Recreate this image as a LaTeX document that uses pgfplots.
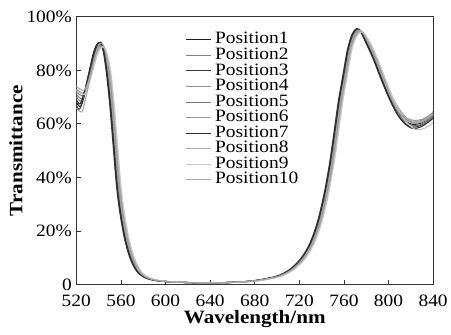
\documentclass[border=0pt]{standalone}
\usepackage{fontspec}
\setmainfont{Liberation Serif}[FakeStretch=1.12]
\usepackage{pgfplots}
\pgfplotsset{compat=1.18}
\begin{document}
\begin{tikzpicture}
\begin{axis}[
  scale only axis, width=360pt, height=270pt,
  xmin=520, xmax=840, ymin=0, ymax=100,
  xtick={520,560,...,840},
  xticklabels={520,560,600,640,680,720,760,800,840},
  ytick={0,20,...,100},
  yticklabels={0,20\%,40\%,60\%,80\%,100\%},
  tick align=inside, xtick pos=bottom, ytick pos=left,
  major tick length=5pt,
  axis line style={line width=1pt, black!80},
  tick style={line width=0.8pt, black!80},
  tick label style={font=\fontsize{17.5}{18}\selectfont},
  xticklabel style={anchor=base, yshift=-22pt},
  yticklabel style={xshift=-1pt},
  xlabel={Wavelength/nm}, ylabel={Transmittance},
  every axis x label/.style={at={(rel axis cs:0.5,0)}, yshift=-39pt, anchor=base, font=\fontsize{19}{20}\selectfont\bfseries},
  every axis y label/.style={at={(rel axis cs:0,0.5)}, xshift=-61pt, rotate=90, anchor=center, font=\fontsize{19}{20}\selectfont\bfseries},
  every axis plot/.append style={line width=1.1pt, smooth, mark=none},
  legend cell align=left,
  legend style={at={(rel axis cs:0.305,0.944)}, anchor=north west, draw=none, fill=none, inner sep=0pt,
    font=\fontsize{17.5}{18}\selectfont, row sep=0pt, column sep=4pt,
    nodes={inner sep=0pt, text height=12pt, text depth=3.7pt}},
  legend image code/.code={\draw[#1] (0pt,0pt) -- (25pt,0pt);},
]
\addplot[color=black!88] coordinates {(520,68) (524,66.5) (528,71.8) (532,78.9) (536,86) (539,89.5) (542,90.5) (545,87.3) (548,79) (551,67) (554,52) (557,37) (560,27) (564,17.5) (569,10) (575,5) (582,2.6) (590,1.6) (600,1.1) (620,0.7) (640,0.6) (660,0.8) (680,1.4) (700,3) (712,5.5) (722,9.5) (730,15) (737,23) (743,33.5) (748,45) (752,56.5) (756,68.5) (760,78) (764,87.5) (768,93.2) (772,95.3) (776,94.2) (781,90) (787,84.5) (794,77) (801,70) (808,64.5) (815,61) (822,59.8) (829,60.3) (835,61.8) (840,63.5)};
\addlegendentry{Position1}
\addplot[color=black!50] coordinates {(520,71) (525,69.5) (529,73.6) (533,79.8) (537,86) (540,89) (543,89.5) (546,86.6) (549,79) (552,67) (555,52) (558,37) (561,27) (565,17.5) (570,10) (576,5) (583,2.6) (591,1.6) (601,1.1) (621,0.7) (641,0.6) (661,0.8) (681,1.4) (701,3) (713,5.5) (723,9.5) (731,15) (738,23) (744,33.5) (749,45) (753,56.5) (757,68.5) (761,78) (765,87.5) (769,93) (773,95) (777,94) (782,90) (788,84.5) (795,77) (802,70) (809,64.7) (816,61.6) (823,60.8) (830,61.3) (836,62.8) (840,64.3)};
\addlegendentry{Position2}
\addplot[color=black!78] coordinates {(520,67) (523,65.5) (527,71.2) (531,78.6) (535,86) (538,89.5) (541,90.3) (544,87.3) (547,79) (550,67) (553,52) (556,37) (559,27) (563,17.5) (568,10) (574,5) (581,2.6) (589,1.6) (599,1.1) (619,0.7) (639,0.6) (659,0.8) (679,1.4) (699,3) (711,5.5) (721,9.5) (729,15) (736,23) (742,33.5) (747,45) (751,56.5) (755,68.5) (759,78) (763,87.5) (767,93.2) (771,95.5) (775,94.3) (780,90) (786,84.5) (793,77) (800,70) (807,64.3) (814,60.4) (821,58.8) (828,59.3) (834,60.8) (840,62.7)};
\addlegendentry{Position3}
\addplot[color=black!45] coordinates {(520,72) (525.5,70.5) (529.5,74.2) (533.5,80.1) (537.5,86) (540.5,88.8) (543.5,89.2) (546.5,86.3) (549.5,79) (552.5,67) (555.5,52) (558.5,37) (561.5,27) (565.5,17.5) (570.5,10) (576.5,5) (583.5,2.6) (591.5,1.6) (601.5,1.1) (621.5,0.7) (641.5,0.6) (661.5,0.8) (681.5,1.4) (701.5,3) (713.5,5.5) (723.5,9.5) (731.5,15) (738.5,23) (744.5,33.5) (749.5,45) (753.5,56.5) (757.5,68.5) (761.5,78) (765.5,87.5) (769.5,92.8) (773.5,94.8) (777.5,93.8) (782.5,90) (788.5,84.5) (795.5,77) (802.5,70) (809.5,64.6) (816.5,61.3) (823.5,60.3) (830.5,60.8) (836.5,62.3) (840,63.6)};
\addlegendentry{Position4}
\addplot[color=black!55] coordinates {(520,70) (524.5,68.5) (528.5,73) (532.5,79.5) (536.5,86) (539.5,89.3) (542.5,90) (545.5,87) (548.5,79) (551.5,67) (554.5,52) (557.5,37) (560.5,27) (564.5,17.5) (569.5,10) (575.5,5) (582.5,2.6) (590.5,1.6) (600.5,1.1) (620.5,0.7) (640.5,0.6) (660.5,0.8) (680.5,1.4) (700.5,3) (712.5,5.5) (722.5,9.5) (730.5,15) (737.5,23) (743.5,33.5) (748.5,45) (752.5,56.5) (756.5,68.5) (760.5,78) (764.5,87.5) (768.5,93.1) (772.5,95.2) (776.5,94.1) (781.5,90) (787.5,84.5) (794.5,77) (801.5,70) (808.5,64.2) (815.5,60.7) (822.5,59.3) (829.5,59.8) (835.5,61.3) (840,62.9)};
\addlegendentry{Position5}
\addplot[color=black!40] coordinates {(520,73) (526,71.5) (530,74.8) (534,80.4) (538,86.2) (541,88.7) (544,89) (547,86) (550,79) (553,67) (556,52) (559,37) (562,27) (566,17.5) (571,10) (577,5) (584,2.6) (592,1.6) (602,1.1) (622,0.7) (642,0.6) (662,0.8) (682,1.4) (702,3) (714,5.5) (724,9.5) (732,15) (739,23) (745,33.5) (750,45) (754,56.5) (758,68.5) (762,78) (766,87.5) (770,92.6) (774,94.6) (778,93.6) (783,90) (789,84.5) (796,77) (803,70.2) (810,65.2) (817,62) (824,61.3) (831,61.8) (837,63.3) (840,64.5)};
\addlegendentry{Position6}
\addplot[color=black!82] coordinates {(520,69) (523.5,67.5) (527.5,72.4) (531.5,79.2) (535.5,86) (538.5,89.5) (541.5,90.5) (544.5,87.4) (547.5,79) (550.5,67) (553.5,52) (556.5,37) (559.5,27) (563.5,17.5) (568.5,10) (574.5,5) (581.5,2.6) (589.5,1.6) (599.5,1.1) (619.5,0.7) (639.5,0.6) (659.5,0.8) (679.5,1.4) (699.5,3) (711.5,5.5) (721.5,9.5) (729.5,15) (736.5,23) (742.5,33.5) (747.5,45) (751.5,56.5) (755.5,68.5) (759.5,78) (763.5,87.5) (767.5,93.3) (771.5,95.6) (775.5,94.5) (780.5,90) (786.5,84.5) (793.5,77) (800.5,69.8) (807.5,63.8) (814.5,60.1) (821.5,58.3) (828.5,58.8) (834.5,60.3) (840,62.1)};
\addlegendentry{Position7}
\addplot[color=black!32] coordinates {(520,74) (526.5,72.5) (530.5,75.4) (534.5,80.7) (538.5,86.2) (541.5,88.5) (544.5,88.8) (547.5,85.8) (550.5,79) (553.5,67) (556.5,52) (559.5,37) (562.5,27) (566.5,17.5) (571.5,10) (577.5,5) (584.5,2.6) (592.5,1.6) (602.5,1.1) (622.5,0.7) (642.5,0.6) (662.5,0.8) (682.5,1.4) (702.5,3) (714.5,5.5) (724.5,9.5) (732.5,15) (739.5,23) (745.5,33.5) (750.5,45) (754.5,56.5) (758.5,68.5) (762.5,78) (766.5,87.5) (770.5,92.5) (774.5,94.5) (778.5,93.5) (783.5,90) (789.5,84.5) (796.5,77) (803.5,70.1) (810.5,65) (817.5,61.6) (824.5,60.8) (831.5,61.3) (837.5,62.8) (840,63.6)};
\addlegendentry{Position8}
\addplot[color=black!22] coordinates {(520,72.5) (527,71) (531,74.5) (535,80.2) (539,86.1) (542,88.3) (545,88.5) (548,85.6) (551,79) (554,67) (557,52) (560,37) (563,27) (567,17.5) (572,10) (578,5) (585,2.6) (593,1.6) (603,1.1) (623,0.7) (643,0.6) (663,0.8) (683,1.4) (703,3) (715,5.5) (725,9.5) (733,15) (740,23) (746,33.5) (751,45) (755,56.5) (759,68.5) (763,78) (767,87.5) (771,92.4) (775,94.3) (779,93.3) (784,90) (790,84.5) (797,77) (804,69.5) (811,63.5) (818,59.8) (825,57.8) (832,58.3) (838,59.8) (840,60.5)};
\addlegendentry{Position9}
\addplot[color=black!35] coordinates {(520,66) (525,64.5) (529,70.6) (533,78.3) (537,85.6) (540,89.3) (543,90.2) (546,87.2) (549,79) (552,67) (555,52) (558,37) (561,27) (565,17.5) (570,10) (576,5) (583,2.6) (591,1.6) (601,1.1) (621,0.7) (641,0.6) (661,0.8) (681,1.4) (701,3) (713,5.5) (723,9.5) (731,15) (738,23) (744,33.5) (749,45) (753,56.5) (757,68.5) (761,78) (765,87.5) (769,93) (773,95) (777,94) (782,90) (788,84.5) (795,77) (802,70) (809,64.6) (816,61.3) (823,60.3) (830,60.8) (836,62.3) (840,63.8)};
\addlegendentry{Position10}
\end{axis}
\path (current axis.south west) ++(-77pt,-50pt);
\path (current axis.north east) ++(14pt,17pt);
\end{tikzpicture}
\end{document}
